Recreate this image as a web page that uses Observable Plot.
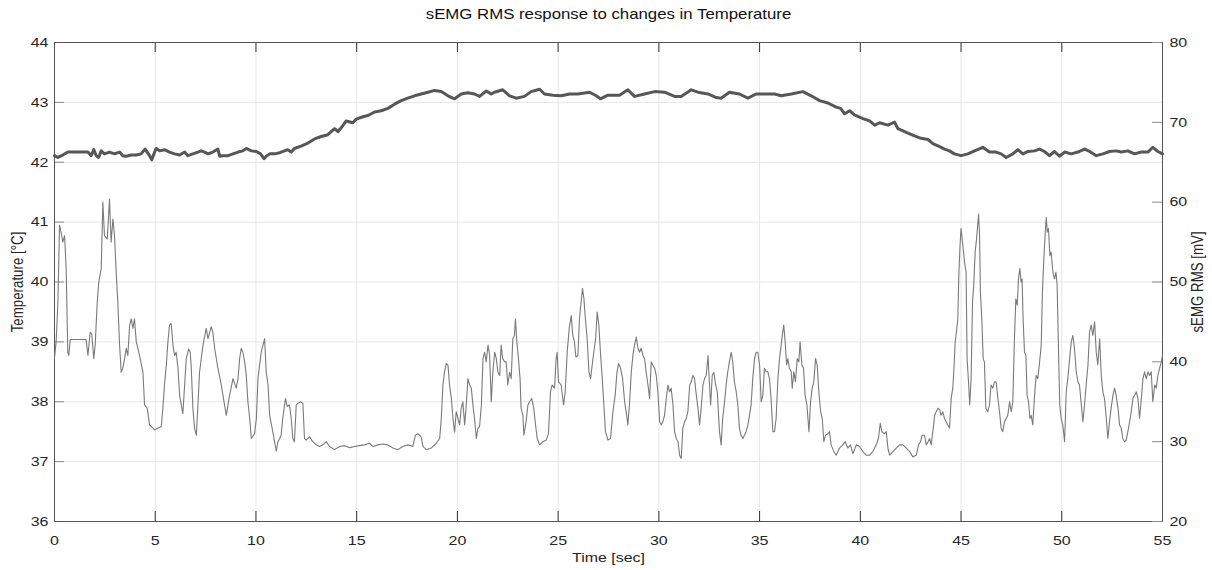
<!DOCTYPE html>
<html><head><meta charset="utf-8">
<script src="https://cdn.jsdelivr.net/npm/d3@7"></script>
<script src="https://cdn.jsdelivr.net/npm/@observablehq/plot@0.6"></script>
<style>
html,body{margin:0;padding:0;background:#fff;overflow:hidden}
#chart{position:relative;width:1212px;height:570px}
#chart svg{position:absolute;left:0;top:0}
</style></head><body><div id="chart"></div>
<script>
// ---- tick labels ----
const xTicks = [0,5,10,15,20,25,30,35,40,45,50,55];
const tempTicks = [36,37,38,39,40,41,42,43,44];
const emgTicks = [20,30,40,50,60,70,80];

// ---- Temperature series (°C) ----
const tempTime = [0,0.17,0.41,0.66,1.66,1.82,1.95,2.07,2.19,2.32,2.48,2.73,2.98,3.23,3.39,3.56,3.81,4.06,4.3,4.5,4.72,4.83,4.97,5.05,5.22,5.46,5.71,5.96,6.21,6.46,6.62,6.87,7.12,7.28,7.45,7.62,7.86,8.11,8.2,8.36,8.61,8.86,9.11,9.35,9.52,9.77,10.02,10.23,10.4,10.51,10.68,10.93,11.18,
11.25,11.58,11.75,11.91,12.24,12.58,12.91,13.24,13.57,13.9,14.07,14.31,14.48,14.81,14.98,15.31,15.56,15.89,16.22,16.55,16.88,17.21,17.54,17.87,18.2,18.54,18.87,19.2,19.53,19.86,20.19,20.52,20.85,21.1,21.43,21.68,
21.84,22.25,22.59,22.92,23.33,23.66,24.08,24.32,24.74,25.15,25.57,25.98,26.56,26.89,27.1,27.47,28.05,28.46,28.79,29.29,29.79,30.28,30.78,31.11,31.61,31.94,32.44,32.85,
33.09,33.5,34.0,34.42,34.83,35.24,35.74,36.07,36.57,37.15,37.56,37.98,38.39,38.8,39.02,39.22,39.47,39.71,40.13,40.46,40.71,40.96,41.37,41.7,41.87,42.28,42.69,43.02,43.36,43.6,43.94,
44.18,44.43,44.67,45.0,45.34,45.67,46.08,46.41,46.74,46.99,47.24,47.57,47.82,48.07,48.32,48.65,48.9,49.14,49.39,49.64,49.89,50.14,50.47,50.8,51.13,51.38,51.71,52.04,52.37,52.7,52.95,53.28,53.61,53.95,54.28,54.52,54.77,55];
const tempValue = [42.11,42.08,42.12,42.17,42.17,42.11,42.21,42.11,42.08,42.19,42.14,42.17,42.14,42.17,42.11,42.1,42.12,42.12,42.14,42.22,42.11,42.04,42.17,42.23,42.19,42.21,42.17,42.14,42.12,42.17,42.11,42.14,42.17,42.19,42.17,42.14,42.17,42.22,42.1,42.11,42.11,42.14,42.17,42.19,42.23,42.19,42.18,42.14,42.06,42.1,42.14,42.14,42.16,
42.17,42.21,42.17,42.23,42.27,42.32,42.39,42.43,42.46,42.56,42.51,42.61,42.69,42.66,42.72,42.76,42.78,42.84,42.86,42.9,42.97,43.03,43.07,43.11,43.14,43.17,43.2,43.18,43.11,43.06,43.14,43.16,43.14,43.1,43.19,43.14,
43.17,43.21,43.11,43.07,43.1,43.18,43.22,43.14,43.12,43.11,43.14,43.14,43.17,43.11,43.06,43.12,43.12,43.21,43.1,43.14,43.18,43.17,43.1,43.1,43.21,43.17,43.14,43.08,
43.07,43.17,43.14,43.07,43.14,43.14,43.14,43.11,43.14,43.18,43.11,43.03,42.99,42.92,42.9,42.81,42.86,42.79,42.73,42.69,42.62,42.66,42.62,42.67,42.56,42.5,42.44,42.4,42.38,42.31,42.26,
42.22,42.19,42.14,42.11,42.14,42.19,42.25,42.17,42.17,42.14,42.08,42.14,42.21,42.14,42.18,42.19,42.22,42.18,42.11,42.18,42.1,42.17,42.14,42.17,42.22,42.18,42.11,42.14,42.18,42.19,42.17,42.19,42.14,42.17,42.17,42.25,42.18,42.14];

// ---- sEMG RMS series (mV) ----
const emgTime = [0,0.08,0.17,0.25,0.33,0.41,0.5,0.58,0.66,0.71,0.78,1.57,1.66,1.77,1.85,1.95,2.02,2.12,2.2,2.32,2.4,2.48,2.62,2.73,2.81,2.9,2.98,3.06,3.15,3.23,3.31,3.39,3.48,3.56,3.64,3.73,3.81,3.89,3.97,4.06,4.22,4.39,4.47,4.6,4.72,4.97,5.3,5.38,5.46,5.55,5.63,5.71,5.79,5.88,5.96,6.04,6.13,6.21,6.37,6.46,6.54,6.66,6.74,6.79,6.87,6.95,7.04,7.12,7.2,7.37,7.53,7.62,7.78,7.86,7.95,8.11,8.28,8.44,8.53,8.69,8.86,9.02,9.11,9.19,9.27,9.35,9.44,9.52,9.6,9.69,9.77,9.93,10.02,10.1,10.26,10.43,10.51,10.6,10.68,10.84,11.01,11.09,11.18,
11.25,11.33,11.42,11.47,11.55,11.66,11.75,11.83,11.91,12,12.08,12.21,12.33,12.41,12.49,12.66,12.82,12.99,13.16,13.32,13.49,13.65,13.9,14.15,14.4,14.65,14.89,15.14,15.39,15.64,15.8,16.05,16.3,16.55,16.8,17.05,17.29,17.54,17.79,17.91,18.04,18.2,18.29,18.45,18.7,18.95,19.12,19.2,19.28,19.36,19.45,19.53,19.61,19.7,19.78,19.86,19.94,20.03,20.11,20.19,20.27,20.36,20.44,20.52,20.61,20.69,20.77,20.85,20.94,21.02,21.1,21.19,21.27,21.35,21.43,21.52,21.6,21.68,21.76,21.85,21.93,22.01,22.1,
22.17,22.25,22.34,22.42,22.5,22.59,22.67,22.75,22.83,22.88,22.95,23.03,23.11,23.16,23.25,23.3,23.41,23.5,23.58,23.69,23.79,23.86,23.96,24.08,24.24,24.41,24.52,24.62,24.7,24.82,24.9,24.95,25.02,25.15,25.27,25.35,25.45,25.55,25.65,25.73,25.81,25.88,25.98,26.06,26.14,26.21,26.28,26.34,26.44,26.53,26.61,26.69,26.77,26.86,26.94,27.02,27.1,27.19,27.27,27.35,27.47,27.6,27.72,27.83,27.92,28,28.1,28.2,28.3,28.4,28.46,28.55,28.63,28.71,28.79,28.88,28.96,29.04,29.12,29.21,29.29,29.37,29.46,29.54,29.62,29.7,29.79,29.87,29.95,30.04,30.12,30.2,30.28,30.37,30.45,30.53,30.61,30.7,30.78,30.86,30.95,31.03,31.11,31.19,31.28,31.36,31.44,31.53,31.61,31.69,31.77,31.86,31.94,32.02,32.1,32.19,32.27,32.35,32.44,32.48,32.57,32.65,32.73,32.82,32.9,
33.01,33.09,33.17,33.26,33.34,33.42,33.5,33.59,33.67,33.75,33.84,33.92,34,34.08,34.17,34.25,34.33,34.42,34.5,34.58,34.66,34.75,34.83,34.91,35,35.08,35.16,35.24,35.33,35.41,35.49,35.57,35.66,35.74,35.82,35.91,35.99,36.07,36.15,36.2,36.27,36.34,36.4,36.48,36.57,36.62,36.7,36.78,36.87,36.95,37.01,37.1,37.18,37.26,37.35,37.45,37.53,37.61,37.69,37.78,37.86,37.94,38.03,38.11,38.19,38.27,38.39,38.47,38.55,38.69,38.8,38.97,39.13,39.25,39.38,39.51,39.63,39.8,39.96,40.13,40.29,40.46,40.62,40.79,40.9,40.99,41.07,41.2,41.29,41.37,41.45,41.62,41.78,41.95,42.11,42.28,42.45,42.61,42.78,42.89,42.99,43.07,43.19,43.27,43.36,43.44,43.52,43.6,43.69,43.77,43.85,43.94,
44.01,44.09,44.18,44.26,44.34,44.43,44.51,44.59,44.64,44.71,44.79,44.84,44.89,44.95,45,45.09,45.17,45.25,45.3,45.37,45.43,45.5,45.57,45.63,45.7,45.77,45.87,45.92,45.96,46.03,46.1,46.16,46.23,46.33,46.41,46.49,46.58,46.66,46.74,46.83,46.91,46.99,47.07,47.16,47.24,47.32,47.41,47.49,47.57,47.65,47.72,47.79,47.85,47.92,47.98,48.03,48.08,48.15,48.22,48.28,48.35,48.42,48.48,48.56,48.65,48.73,48.81,48.9,48.98,49.04,49.11,49.18,49.23,49.28,49.34,49.41,49.47,49.56,49.64,49.71,49.77,49.84,49.9,49.97,50.05,50.14,50.22,50.3,50.39,50.47,50.55,50.63,50.72,50.8,50.88,50.97,51.05,51.13,51.21,51.3,51.38,51.46,51.54,51.63,51.71,51.79,51.88,51.96,52.04,52.12,52.21,52.29,52.37,52.45,52.54,52.62,52.7,52.79,52.87,52.95,53.03,53.12,53.2,53.28,53.37,53.45,53.53,53.61,53.7,53.78,53.86,53.95,54.03,54.11,54.19,54.28,54.36,54.44,54.52,54.61,54.69,54.77,54.86,54.94,55];
const emgValue = [40.5,42.5,47.5,57.1,56.2,55,55.8,51.7,41.2,40.8,42.8,42.8,40.8,43.7,43.5,40.4,42.1,47.5,50,51.7,60,55.8,55.4,60.4,55,57.9,55.8,51.3,47.1,42.1,38.7,39.2,40.4,41.7,40.8,44.6,45.4,44.2,45.4,42.5,40.8,38.7,34.6,34.2,32.1,31.5,31.9,34.2,37.1,39.6,42.5,44.6,44.8,42.1,40.8,41.2,39.2,35.8,33.5,37.1,40.4,41.6,41.2,39.2,34.2,31.7,30.8,34.6,38.7,42.1,44.2,42.9,44.4,43.7,41.7,39.2,37.1,34.6,33.3,35.8,37.9,36.7,37.9,40.4,41.7,41.2,40,38.3,35,32.9,30.4,31,32.9,37.9,41.2,42.9,38.7,37.1,33.3,31.2,28.8,30,30.4,
30.8,32.9,34.6,35.4,34.4,34.6,32.9,30.4,30,34.6,34.8,35,34.8,30.4,30.2,30.6,30,29.6,29.4,29.6,30,29.4,29,29.4,29.5,29.25,29.4,29.5,29.6,29.8,29.4,29.6,29.7,29.6,29.2,29,29.4,29.6,29.4,30.8,31,30.6,29.4,29,29.2,29.8,30.4,32.9,37.1,38.7,39.8,39.6,37.1,35.4,32.9,31.2,33.75,32.9,32.1,34.2,35,32.1,34.6,37.9,37.1,36.7,34.6,32.9,30.4,31.7,31.9,34.6,40.4,41.2,40,42.1,40.8,35,38.7,41.2,40.4,38.7,38.3,
42.1,40.4,40,40,37.1,38.7,37.9,42.9,43.3,45.4,42.5,40.4,37.9,34.2,33.3,30.8,32.5,34.6,35,35.4,34.2,32.5,30.4,29.6,30,30.2,31,36.25,37.1,36.7,40.4,41.2,37.5,37.1,34.6,36.25,41.2,44.2,45.8,43.3,42.5,40.6,40.8,45.4,47.5,49.2,47.9,45.8,42.9,38.7,37.9,39.6,41.2,42.9,46.25,44.6,41.2,37.9,34.6,31.25,30.2,30.4,33.75,35.8,38.7,39.8,39.2,37.9,35,33.3,32.1,35,38.7,40.8,42.1,43.1,41.7,41.2,41.7,40.8,40.4,38.7,37.1,35.4,40,39.6,39.2,38.3,36.25,32.5,32.1,32.5,33.3,35.4,37.1,36.25,36.7,34.6,31.25,30.4,30,28.3,27.9,31.7,32.5,32.9,33.75,37.1,37.5,38.3,37.9,35.8,34.2,32.1,34.2,37.1,37.9,38.3,40.8,38.7,34.6,38.3,38.7,37.1,36.25,
31.25,29.6,32.9,35,37.1,38.75,40,41.2,40,37.5,36.25,34.6,31.7,30.8,30.4,30.8,31.25,32.1,33.3,34.6,37.9,40.4,41.2,41.2,39.6,35,35.8,39.2,38.75,38.75,37.9,35.4,31.25,31.25,32.9,37.9,40.4,42.1,43.75,44.6,42.5,39.6,40.4,39.2,38.75,36.7,38.75,37.5,40.4,40,42.5,39.6,39.2,35.8,34.6,31.25,35,36.7,37.5,40.4,39.6,36.25,33.75,32.9,30,30.8,31,31.25,29.6,28.75,28.3,29.2,29.6,30,29.2,29.6,28.5,29.6,29.4,28.75,28.3,28.3,28.75,29.6,30.4,32.3,31.25,31,31.25,29.2,28.3,28.75,29.2,29.6,29.6,29.2,28.75,28.1,28.3,29.6,30,30.8,30.8,29.6,30,30.4,29.6,31.25,33.3,33.75,34.2,34,
33.3,33.75,32.9,32.5,32.1,31.7,35.4,36.7,38.75,42.5,44.2,45.4,50.8,54.6,56.7,54.6,52.5,51.25,40.4,37.5,34.6,37.9,47.5,49.6,53.75,55.4,58.5,55.8,48.75,45.4,40.4,40,34.2,33.75,34.6,37.1,36.7,37.5,37.5,35.4,33.75,31.7,31.25,32.5,32.9,33.3,35,33.75,35,42.9,47.9,47.1,50.4,51.7,50,50.4,45.4,41.2,40.8,35.8,35,32.9,33.3,32.1,35.8,38.3,37.9,40,42.1,48.75,52.9,56.25,58.1,56.25,56.7,53.3,53.75,51.25,50.4,51.25,49.6,41.25,34.6,32.9,32.1,30,36.25,37.9,40.4,42.5,43.3,41.7,38.75,37.5,37.1,34.6,32.5,34.6,37.1,39.6,43.75,44.6,43.3,45,41.25,39.6,42.9,38.3,36.25,35.4,32.9,30.4,32.5,34.2,35.8,36.7,35.8,34.2,32.1,31.7,30.4,30,30.2,31.25,32.5,33.75,35.4,35.8,36.25,35.4,32.9,35.4,37.9,38.75,37.9,38.75,38.3,38.75,35,37.1,36.7,38.3,39.2,40,40.8];

// ---- layout / style ----
const W = 1212, H = 570;
const M = {top: 42, right: 50, bottom: 49, left: 54};
const FW = W - M.left - M.right, FH = H - M.top - M.bottom;
const font = "'Liberation Sans', Arial, Helvetica, sans-serif";
const ink = "#262626";
const gridColor = "#e6e6e6";

const tempData = tempTime.map((t, i) => ({t, v: tempValue[i]}));
const emgData = emgTime.map((t, i) => ({t, v: emgValue[i]}));

const common = {
  width: W, height: H,
  marginTop: M.top, marginRight: M.right, marginBottom: M.bottom, marginLeft: M.left,
  style: {fontFamily: font, fontSize: "13.3px", color: ink, background: "transparent", overflow: "visible"}
};

const p1 = Plot.plot({
  ...common,
  x: {domain: [0, 55]},
  y: {domain: [36, 44]},
  marks: [
    Plot.ruleX(xTicks, {x: d => d, stroke: gridColor}),
    Plot.ruleY(tempTicks, {y: d => d, stroke: gridColor}),
    Plot.line(tempData, {x: "t", y: "v", stroke: "#575757", strokeWidth: 3, strokeLinejoin: "round"}),
    Plot.tickX(xTicks, {x: d => d, stroke: "#333", insetBottom: FH - 10}),
    Plot.tickX(xTicks, {x: d => d, stroke: "#333", insetTop: FH - 10}),
    Plot.tickY(tempTicks, {y: d => d, stroke: "#8c8c8c", insetRight: FW - 10}),
    Plot.frame({stroke: "#555"}),
    Plot.axisX({ticks: xTicks, tickSize: 0, tickPadding: 14, label: null, tickFormat: d => String(d)}),
    Plot.axisY({ticks: tempTicks, tickSize: 0, tickPadding: 6, label: null, tickFormat: d => String(d)}),
    Plot.text(["sEMG RMS response to changes in Temperature"], {text: d => d, frameAnchor: "top", dy: -28, fontSize: 14, fill: "#111", lineAnchor: "middle"}),
    Plot.text(["Time [sec]"], {text: d => d, frameAnchor: "bottom", dy: 36, lineAnchor: "middle", fill: ink}),
    Plot.text(["Temperature [°C]"], {text: d => d, frameAnchor: "left", dx: -37, rotate: -90, textAnchor: "middle", lineAnchor: "middle", fill: ink})
  ]
});

const p2 = Plot.plot({
  ...common,
  x: {domain: [0, 55], axis: null},
  y: {domain: [20, 80]},
  marks: [
    Plot.line(emgData, {x: "t", y: "v", stroke: "#7a7a7a", strokeWidth: 1.1}),
    Plot.tickY(emgTicks, {y: d => d, stroke: "#8c8c8c", insetLeft: FW - 10}),
    Plot.axisY({ticks: emgTicks, anchor: "right", tickSize: 0, tickPadding: 7, label: null, tickFormat: d => String(d)}),
    Plot.text(["sEMG RMS [mV]"], {text: d => d, frameAnchor: "right", dx: 35, rotate: -90, textAnchor: "middle", lineAnchor: "middle", fill: ink})
  ]
});

// the reference glyphs are horizontally widened; mimic that
for (const svg of [p1, p2]) {
  for (const t of svg.querySelectorAll("text")) {
    const tr = t.getAttribute("transform");
    if (!tr) continue;
    t.setAttribute("transform", tr + (/rotate/.test(tr) ? " scale(1,1.2)" : " scale(1.2,1)"));
  }
}

const chart = document.getElementById("chart");
chart.appendChild(p1);
chart.appendChild(p2);
</script></body></html>
